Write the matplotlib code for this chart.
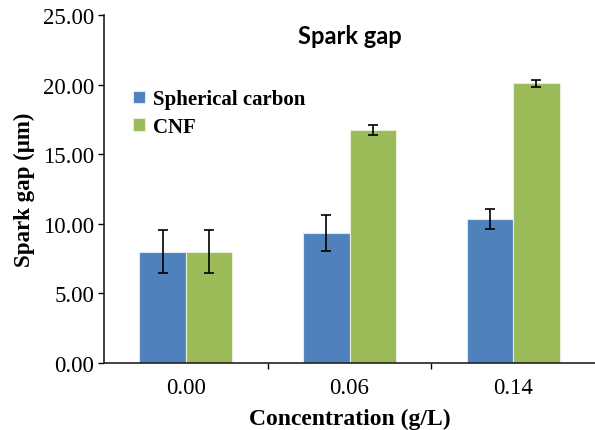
import numpy as np
import matplotlib.pyplot as plt

# spark gap measurements per concentration
concentrations = ['0.00', '0.06', '0.14']
spherical = [8.00, 9.34, 10.34]
spherical_err = [1.55, 1.30, 0.70]
cnf = [8.00, 16.72, 20.09]
cnf_err = [1.55, 0.35, 0.26]

blue = '#4F81BD'
green = '#9BBB59'

fig = plt.figure(figsize=(5.95, 4.31), dpi=100)
ax = fig.add_axes([0.1748, 0.1555, 0.8252, 0.8074])

x = np.arange(len(concentrations))
w = 0.285
err_kw = dict(ecolor='black', elinewidth=1.2, capsize=3.5, capthick=1.2)
ax.bar(x - w / 2, spherical, w, yerr=spherical_err, color=blue,
       edgecolor='#dfe8f3', linewidth=0.8, label='Spherical carbon', error_kw=err_kw)
ax.bar(x + w / 2, cnf, w, yerr=cnf_err, color=green,
       edgecolor='#e8f0da', linewidth=0.8, label='CNF', error_kw=err_kw)

ax.set_xlim(-0.5, 2.5)
ax.set_ylim(0, 25)
ax.set_yticks(np.arange(0, 26, 5))
ax.set_yticklabels(['%.2f' % v for v in np.arange(0, 26, 5)],
                   family='Liberation Serif', fontsize=16.5)
ax.set_xticks(x)
ax.set_xticklabels(concentrations, family='Liberation Serif', fontsize=16.5)
ax.set_xticks([0.5, 1.5], minor=True)
ax.tick_params(axis='x', which='major', length=0, pad=10)
ax.tick_params(axis='x', which='minor', length=4, direction='out', width=1)
ax.tick_params(axis='y', length=4, direction='out', width=1, pad=3)

for side in ['top', 'right']:
    ax.spines[side].set_visible(False)
for side in ['left', 'bottom']:
    ax.spines[side].set_linewidth(1.2)
    ax.spines[side].set_color('#222222')

ax.set_ylabel('Spark gap (μm)', family='Liberation Serif', fontweight='bold',
              fontsize=16.5, labelpad=6)
ax.set_xlabel('Concentration (g/L)', family='Liberation Serif', fontweight='bold',
              fontsize=17, labelpad=7)
ax.set_title('Spark gap', family='Lato', fontweight='bold',
             fontsize=17, y=0.895)

ax.legend(loc='upper left', bbox_to_anchor=(0.021, 0.84), frameon=False,
          prop={'family': 'Liberation Serif', 'weight': 'bold', 'size': 15},
          handlelength=0.55, handleheight=0.55, handletextpad=0.4, labelspacing=0.35)

plt.savefig('out.png', dpi=100)
